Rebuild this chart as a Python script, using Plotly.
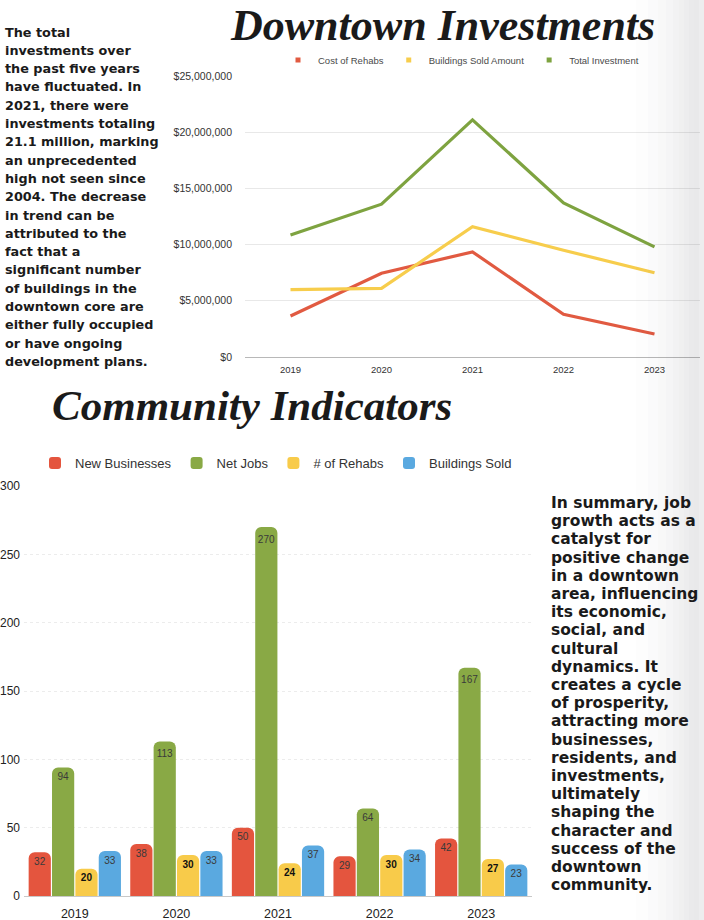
import plotly.graph_objects as go

W, H = 704, 920

# ---------------- data ----------------
years = ["2019", "2020", "2021", "2022", "2023"]

cost_of_rehabs = [3650000, 7450000, 9350000, 3800000, 2050000]
buildings_sold_amount = [6000000, 6100000, 11600000, 9500000, 7500000]
total_investment = [10850000, 13600000, 21100000, 13700000, 9800000]

new_businesses = [32, 38, 50, 29, 42]
net_jobs = [94, 113, 270, 64, 167]
num_rehabs = [20, 30, 24, 30, 27]
buildings_sold = [33, 33, 37, 34, 23]

money_ticks = [0, 5000000, 10000000, 15000000, 20000000, 25000000]
money_tick_text = ["$0", "$5,000,000", "$10,000,000", "$15,000,000", "$20,000,000", "$25,000,000"]
count_ticks = [0, 50, 100, 150, 200, 250, 300]

left_text = [
    "The total", "investments over", "the past five years", "have fluctuated. In",
    "2021, there were", "investments totaling", "21.1 million, marking",
    "an unprecedented", "high not seen since", "2004. The decrease",
    "in trend can be", "attributed to the", "fact that a", "significant number",
    "of buildings in the", "downtown core are", "either fully occupied",
    "or have ongoing", "development plans.",
]
right_text = [
    "In summary, job", "growth acts as a", "catalyst for", "positive change",
    "in a downtown", "area, influencing", "its economic,", "social, and",
    "cultural", "dynamics. It", "creates a cycle", "of prosperity,",
    "attracting more", "businesses,", "residents, and", "investments,",
    "ultimately", "shaping the", "character and", "success of the",
    "downtown", "community.",
]

# ---------------- styles ----------------
RED = "#E4553E"
GREEN = "#89A945"
YELLOW = "#F8CB4A"
BLUE = "#5AA9E0"
LINE_RED = "#E15A41"
LINE_YELLOW = "#F7CD4C"
LINE_GREEN = "#7EA340"


def px_x(p):
    return p / W


def px_y(p):
    return 1 - p / H


fig = go.Figure()

# ---- top line chart ----
for name, vals, col in [
    ("Cost of Rehabs", cost_of_rehabs, LINE_RED),
    ("Buildings Sold Amount", buildings_sold_amount, LINE_YELLOW),
    ("Total Investment", total_investment, LINE_GREEN),
]:
    fig.add_trace(go.Scatter(
        x=years, y=vals, mode="lines", name=name,
        line=dict(color=col, width=3.2), showlegend=False,
        xaxis="x", yaxis="y",
    ))
    # legend entry (square marker like the original)
    fig.add_trace(go.Scatter(
        x=[None], y=[None], mode="markers", name=name,
        marker=dict(color=col, size=5, symbol="square"),
        legend="legend", xaxis="x", yaxis="y",
    ))

# ---- bottom bar chart ----
for name, vals, col, tcol in [
    ("New Businesses", new_businesses, RED, "#3a3a3a"),
    ("Net Jobs", net_jobs, GREEN, "#3a3a3a"),
    ("# of Rehabs", num_rehabs, YELLOW, "#111111"),
    ("Buildings Sold", buildings_sold, BLUE, "#3a3a3a"),
]:
    fig.add_trace(go.Bar(
        x=years, y=vals, name=name,
        marker=dict(color=col, cornerradius=6, line=dict(width=0)),
        text=[str(v) for v in vals], textposition="inside",
        insidetextanchor="end", textangle=0, constraintext="none",
        textfont=dict(size=10.5, color=tcol, family="Liberation Sans",
                      weight="bold" if name == "# of Rehabs" else "normal"),
        legend="legend2", xaxis="x2", yaxis="y2",
    ))

# ---- scan shading on the right edge ----
shapes = []
strips = [(636, 0.010), (648, 0.022), (658, 0.036), (666, 0.05), (673, 0.065),
          (679, 0.08), (684, 0.095), (689, 0.11), (694, 0.115), (699, 0.09)]
for i, (x0, a) in enumerate(strips):
    x1 = strips[i + 1][0] if i + 1 < len(strips) else W
    shapes.append(dict(type="rect", xref="paper", yref="paper",
                       x0=px_x(x0), x1=px_x(x1), y0=0, y1=1,
                       fillcolor=f"rgba(60,60,70,{a})", line=dict(width=0),
                       layer="above"))

annotations = [
    dict(text="Downtown Investments", x=px_x(442), y=px_y(25),
         xref="paper", yref="paper", showarrow=False,
         xanchor="center", yanchor="middle",
         font=dict(family="Liberation Serif", size=44, color="#1a1a1a",
                   style="italic", weight="bold")),
    dict(text="Community Indicators", x=px_x(252), y=px_y(405),
         xref="paper", yref="paper", showarrow=False,
         xanchor="center", yanchor="middle",
         font=dict(family="Liberation Serif", size=43, color="#1a1a1a",
                   style="italic", weight="bold")),
]
for i, line in enumerate(left_text):
    annotations.append(dict(
        text=line, x=px_x(3), y=px_y(32 + 18.3 * i),
        xref="paper", yref="paper", xanchor="left", yanchor="middle",
        align="left", showarrow=False,
        font=dict(family="DejaVu Sans", size=12.8, color="#1a1a1a", weight="bold")))
for i, line in enumerate(right_text):
    annotations.append(dict(
        text=line, x=px_x(549), y=px_y(503 + 18.2 * i),
        xref="paper", yref="paper", xanchor="left", yanchor="middle",
        align="left", showarrow=False,
        font=dict(family="DejaVu Sans", size=15.5, color="#1a1a1a", weight="bold")))

fig.update_layout(
    width=W, height=H, autosize=False,
    margin=dict(l=0, r=0, t=0, b=0, autoexpand=False),
    paper_bgcolor="white", plot_bgcolor="rgba(0,0,0,0)",
    barmode="group", bargap=0.08, bargroupgap=0.05,
    uniformtext=dict(minsize=10, mode="show"),
    font=dict(family="Liberation Sans", color="#333333"),
    shapes=shapes, annotations=annotations,
    xaxis=dict(domain=[px_x(245), px_x(700)], anchor="y", automargin=False,
               type="category", range=[-0.5, 4.5],
               showgrid=False, showline=False, zeroline=False,
               ticklabelstandoff=5,
               tickfont=dict(size=9.5, color="#333333"), ticks=""),
    yaxis=dict(domain=[px_y(357), px_y(76)], anchor="x", automargin=False,
               range=[0, 25000000], tickvals=money_ticks, ticktext=money_tick_text,
               showgrid=True, gridcolor="#e8e8e8", gridwidth=1,
               zeroline=True, zerolinecolor="#b8b8b8", zerolinewidth=1,
               showline=False, ticklabelstandoff=12,
               tickfont=dict(size=10.5, color="#333333")),
    xaxis2=dict(domain=[px_x(24), px_x(532)], anchor="y2", automargin=False,
                type="category", range=[-0.5, 4.5],
                showgrid=False, showline=False, zeroline=False,
                ticklabelstandoff=8,
                tickfont=dict(size=12.5, color="#222222"), ticks=""),
    yaxis2=dict(domain=[px_y(896), px_y(486)], anchor="x2", automargin=False,
                range=[0, 300], tickvals=count_ticks,
                showgrid=True, gridcolor="#ececec", griddash="dot", gridwidth=1,
                zeroline=True, zerolinecolor="#c8c8c8", zerolinewidth=1,
                showline=False, ticklabelstandoff=3,
                tickfont=dict(size=12, color="#222222")),
    legend=dict(orientation="h", x=px_x(461), y=px_y(60),
                xanchor="center", yanchor="middle",
                font=dict(size=9.5, color="#4a4a4a"),
                bgcolor="rgba(0,0,0,0)", itemwidth=30),
    legend2=dict(orientation="h", x=px_x(276), y=px_y(463),
                 xanchor="center", yanchor="middle",
                 font=dict(size=13, color="#333333"),
                 bgcolor="rgba(0,0,0,0)", itemwidth=30),
)

fig.write_html("out.html")
